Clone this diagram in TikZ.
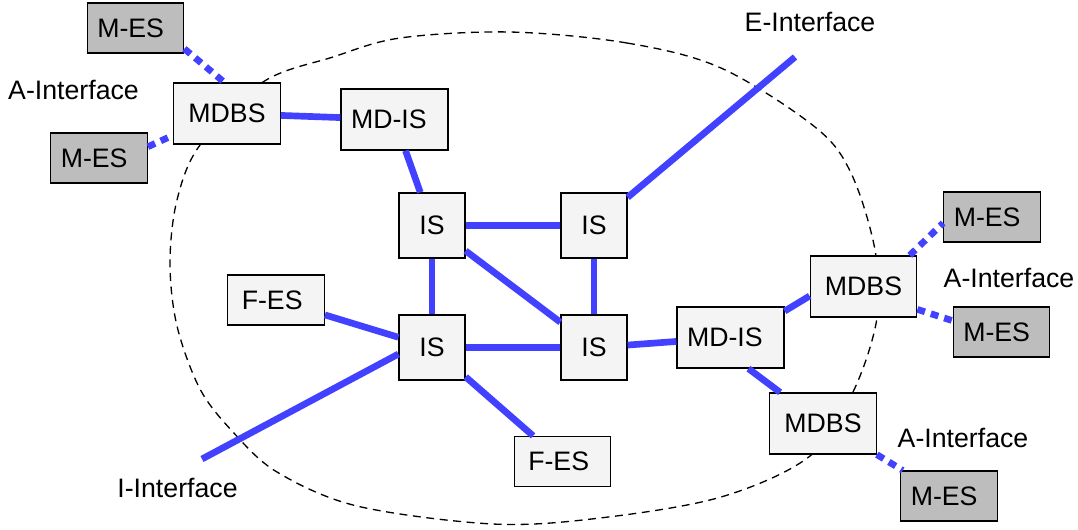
\documentclass[tikz,border=0pt]{standalone}
\usepackage{fontspec}
\setmainfont{Liberation Sans}
\usepackage{tikz}
\usetikzlibrary{positioning}
\usepackage{xcolor}
\definecolor{mLinkBlue}{HTML}{4141FF}
\definecolor{mBoxFill}{HTML}{F4F4F4}
\definecolor{mEsFill}{HTML}{BDBDBD}
\tikzset{
  font=\fontsize{15.2}{18}\selectfont,
  box/.style={draw, rectangle, line width=0.75pt, fill=mBoxFill, inner ysep=0pt},
  isbox/.style={box, minimum width=1.32cm, minimum height=1.3cm, inner xsep=0pt},
  mdbs/.style={box, minimum width=2.13cm, minimum height=1.22cm, inner xsep=0pt},
  mdis/.style={box, text width=1.74cm, inner xsep=0.2cm, align=left, minimum height=1.22cm},
  fes/.style={box, text width=1.37cm, inner xsep=0.28cm, align=left, minimum height=1cm},
  mes/.style={box, fill=mEsFill, text width=1.53cm, inner xsep=0.2cm, align=left, minimum height=1cm},
  wire/.style={draw=mLinkBlue, line width=3.8pt},
  air/.style={wire, dash pattern=on 4.5pt off 3.5pt},
  iface/.style={inner sep=0pt, anchor=base},
  area/.style={draw, line width=0.75pt, dash pattern=on 4.5pt off 3.2pt}
}

\begin{document}
\begin{tikzpicture}[x=0.02cm, y=-0.02cm]
    \useasboundingbox (0,0) rectangle (1078,529);

    % network boundary
    \draw[area] plot[smooth cycle, tension=0.55] coordinates {
      (510,32) (627,43) (721,68) (815,127) (851,173) (875,250) (877,318)
      (853,392) (810,456) (721,497) (600,518) (493,524) (357,506) (277,472)
      (233,432) (200,389) (177,326) (170,263) (177,200) (200,145) (263,82)
      (333,57) (400,38)};

    \node[mes] (mes1) at (135.5,28) {M-ES};
    \node[mdbs] (bs1) at (227,113.5) {MDBS};
    \node[mes] (mes2) at (99,158) {M-ES};
    \node[mdis] (mdis1) at (394.5,119.5) {MD-IS};
    \node[isbox] (is1) at (432,225.5) {IS};
    \node[isbox] (is2) at (594,225.5) {IS};
    \node[isbox] (is3) at (432,347.5) {IS};
    \node[isbox] (is4) at (594,347.5) {IS};
    \node[fes] (fes1) at (276,300) {F-ES};
    \node[fes] (fes2) at (562.5,461.5) {F-ES};
    \node[mdis] (mdis2) at (730.5,337.5) {MD-IS};
    \node[mdbs] (bs2) at (863.5,286.5) {MDBS};
    \node[mdbs] (bs3) at (823,423.5) {MDBS};
    \node[mes] (mes3) at (992,217) {M-ES};
    \node[mes] (mes4) at (1001.5,332) {M-ES};
    \node[mes] (mes5) at (949,496) {M-ES};

    \node[iface] (aif1) at (73.5,99) {A-Interface};
    \node[iface] (eif) at (810,31) {E-Interface};
    \node[iface] (aif2) at (1009,287) {A-Interface};
    \node[iface] (aif3) at (963,447) {A-Interface};
    \node[iface] (iif) at (177.5,497) {I-Interface};

    \coordinate (eend) at (795,57);
    \coordinate (iend) at (202,459);

    \draw[wire] (bs1) -- (mdis1);
    \draw[wire] (mdis1) -- (is1);
    \draw[wire] (is1) -- (is2);
    \draw[wire] (is1) -- (is3);
    \draw[wire] (is2) -- (is4);
    \draw[wire] (is1) -- (is4);
    \draw[wire] (is3) -- (is4);
    \draw[wire] (fes1) -- (is3);
    \draw[wire] (is3) -- (fes2);
    \draw[wire] (is4) -- (mdis2);
    \draw[wire] (mdis2.26) -- (bs2.190);
    \draw[wire] (mdis2.-60) -- (bs3.144);
    \draw[wire] (is2) -- (eend);
    \draw[wire] (is3.191) -- (iend);

    \draw[air] (mes1.-23) -- (bs1.95);
    \draw[air] (mes2.13) -- (bs1.202);
    \draw[air] (bs2.34) -- (mes3.187);
    \draw[air] (bs2.-23) -- (mes4.167);
    \draw[air] (bs3.-30) -- (mes5.151);
  \end{tikzpicture}
\end{document}
